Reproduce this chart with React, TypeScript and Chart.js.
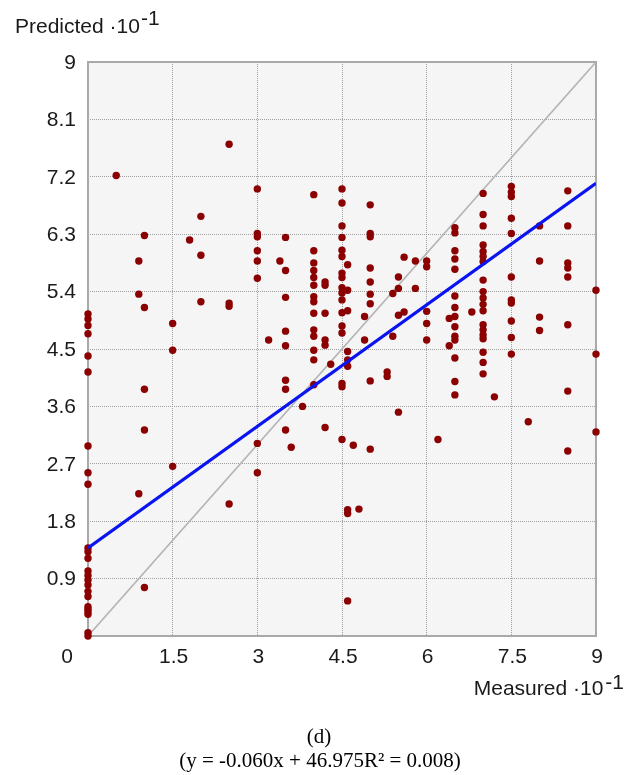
import React, { useEffect, useRef } from "react";
import { Chart, registerables } from "chart.js";

Chart.register(...registerables);

// Measured levels (x, ·10^-1) and the predicted values observed at each level (y, ·10^-1)
const measuredLevels = [
  0, 0.5, 0.9, 1.0, 1.5, 1.8, 2.0, 2.5, 3.0, 3.2, 3.4, 3.5, 3.6, 3.8, 4.0, 4.2, 4.3, 4.5, 4.6, 4.7,
  4.8, 4.9, 5.0, 5.3, 5.4, 5.5, 5.6, 5.8, 6.0, 6.2, 6.4, 6.5, 6.8, 7.0, 7.2, 7.5, 7.8, 8.0, 8.5, 9.0,
];
const predictedGroups = [
  [5.05, 4.97, 4.87, 4.74, 4.39, 4.14, 2.98, 2.56, 2.38, 1.38, 1.32, 1.22, 1.02, 0.95, 0.88, 0.8, 0.7, 0.62, 0.46, 0.42, 0.38, 0.34, 0.05, 0.0],
  [7.22],
  [5.88, 5.36, 2.23],
  [6.28, 5.15, 3.87, 3.23, 0.76],
  [4.9, 4.48, 2.66],
  [6.21],
  [6.58, 5.97, 5.24],
  [7.71, 5.22, 5.17, 2.07],
  [7.01, 6.31, 6.26, 6.04, 5.88, 5.61, 3.02, 2.56],
  [4.64],
  [5.88],
  [6.25, 5.73, 5.31, 4.78, 4.55, 4.01, 3.87, 3.23],
  [2.96],
  [3.6],
  [6.92, 6.04, 5.85, 5.73, 5.62, 5.5, 5.32, 5.24, 5.06, 4.8, 4.7, 4.48, 4.33, 3.94],
  [5.55, 5.5, 5.06, 4.64, 4.56, 3.27],
  [4.26],
  [7.01, 6.79, 6.43, 6.25, 6.05, 5.95, 5.69, 5.62, 5.46, 5.38, 5.27, 5.07, 4.86, 4.75, 3.96, 3.91, 3.08],
  [5.82, 5.42, 5.1, 4.46, 4.33, 4.23, 1.98, 1.92, 0.55],
  [2.99],
  [1.99],
  [5.01, 4.64],
  [6.76, 6.31, 6.26, 5.77, 5.55, 5.36, 5.21, 4.0, 2.93],
  [4.14, 4.07],
  [5.37, 4.7],
  [5.63, 5.45, 5.03, 3.51],
  [5.94, 5.08],
  [5.88, 5.45],
  [5.88, 5.79, 5.09, 4.9, 4.64],
  [3.08],
  [4.98, 4.55],
  [6.4, 6.32, 6.04, 5.91, 5.75, 5.33, 5.15, 5.01, 4.85, 4.7, 4.64, 4.36, 3.99, 3.78],
  [5.08],
  [6.94, 6.61, 6.43, 6.13, 6.03, 5.95, 5.87, 5.58, 5.4, 5.3, 5.2, 5.1, 4.88, 4.8, 4.72, 4.66, 4.45, 4.29, 4.11],
  [3.75],
  [7.05, 6.96, 6.89, 6.55, 6.31, 5.63, 5.27, 5.22, 4.94, 4.68, 4.42],
  [3.36],
  [6.43, 5.88, 5.0, 4.79],
  [6.98, 6.43, 5.85, 5.77, 5.63, 4.88, 3.84, 2.9],
  [5.42, 4.42, 3.2],
];

// Fitted regression line endpoints and the identity (y = x) line
const fitX = [0, 9];
const fitY = [1.38, 7.1];
const identityX = [0, 9];
const identityY = [0, 9];

const xTicks = [0, 1.5, 3, 4.5, 6, 7.5, 9];
const yTicks = [0, 0.9, 1.8, 2.7, 3.6, 4.5, 5.4, 6.3, 7.2, 8.1, 9];

const yTitle = "Predicted ·10";
const xTitle = "Measured ·10";
const exponent = "-1";
const caption = "(d)";
const equation = "(y = -0.060x + 46.975R² = 0.008)";

const SANS = '"Liberation Sans", Arial, sans-serif';
const SERIF = '"Liberation Serif", "Times New Roman", serif';

const fmt = (v: number) => String(Math.round(v * 10) / 10);

const framePlugin = {
  id: "frame",
  beforeDraw(chart: any) {
    const { ctx, chartArea: a } = chart;
    ctx.save();
    ctx.fillStyle = "#ffffff";
    ctx.fillRect(0, 0, chart.width, chart.height);
    ctx.fillStyle = "#f5f5f5";
    ctx.fillRect(a.left, a.top, a.right - a.left, a.bottom - a.top);
    ctx.restore();
  },
  beforeDatasetsDraw(chart: any) {
    const { ctx, chartArea: a } = chart;
    ctx.save();
    ctx.strokeStyle = "#a9a9a9";
    ctx.lineWidth = 2;
    ctx.strokeRect(a.left, a.top, a.right - a.left, a.bottom - a.top);
    ctx.restore();
  },
  afterDraw(chart: any) {
    const ctx = chart.ctx;
    const xs = chart.scales.x;
    const ys = chart.scales.y;
    ctx.save();
    ctx.fillStyle = "#1a1a1a";
    ctx.font = `21px ${SANS}`;
    // y tick labels
    ctx.textAlign = "right";
    ctx.textBaseline = "middle";
    yTicks.forEach((v) => {
      if (v === 0) return;
      ctx.fillText(fmt(v), ys.right - 12, ys.getPixelForValue(v) + 1);
    });
    // x tick labels
    ctx.textAlign = "center";
    const xy = xs.top + 21;
    xTicks.forEach((v) => {
      if (v === 0) {
        ctx.fillText(fmt(v), xs.getPixelForValue(v) - 21, xy);
      } else {
        ctx.fillText(fmt(v), xs.getPixelForValue(v) + 1, xy);
      }
    });
    // axis titles
    ctx.textAlign = "left";
    ctx.textBaseline = "alphabetic";
    ctx.fillText(yTitle, 15, 33);
    const w1 = ctx.measureText(yTitle).width;
    ctx.fillText(exponent, 15 + w1 + 1, 25);
    const w2 = ctx.measureText(xTitle).width;
    const we = ctx.measureText(exponent).width;
    const xStart = 624 - we - 2 - w2;
    ctx.fillText(xTitle, xStart, 695);
    ctx.fillText(exponent, xStart + w2 + 2, 689);
    // caption
    ctx.fillStyle = "#000000";
    ctx.font = `21px ${SERIF}`;
    ctx.textAlign = "center";
    ctx.textBaseline = "middle";
    ctx.fillText(caption, 319, 737);
    ctx.fillText(equation, 320, 761);
    ctx.restore();
  },
};

export default function App() {
  const ref = useRef<HTMLCanvasElement | null>(null);

  useEffect(() => {
    if (!ref.current) return;
    const points: { x: number; y: number }[] = [];
    measuredLevels.forEach((m, i) => {
      predictedGroups[i].forEach((p) => points.push({ x: m, y: p }));
    });

    const chart = new Chart(ref.current, {
      type: "scatter",
      data: {
        datasets: [
          {
            label: "Fit",
            data: fitX.map((x, i) => ({ x, y: fitY[i] })),
            showLine: true,
            borderColor: "#0a14f0",
            borderWidth: 3.2,
            pointRadius: 0,
            order: 0,
          },
          {
            label: "Data",
            data: points,
            backgroundColor: "#8b0000",
            borderWidth: 0,
            pointRadius: 3.7,
            clip: false,
            order: 1,
          },
          {
            label: "Identity",
            data: identityX.map((x, i) => ({ x, y: identityY[i] })),
            showLine: true,
            borderColor: "#b4b4b4",
            borderWidth: 1.6,
            pointRadius: 0,
            order: 2,
          },
        ] as any,
      },
      plugins: [framePlugin],
      options: {
        animation: false,
        responsive: false,
        devicePixelRatio: 1,
        layout: { padding: { left: 0, top: 62, right: 46, bottom: 0 } },
        plugins: {
          legend: { display: false },
          tooltip: { enabled: false },
        },
        scales: {
          x: {
            type: "linear",
            min: 0,
            max: 9,
            afterBuildTicks: (s: any) => {
              s.ticks = xTicks.map((value) => ({ value }));
            },
            afterFit: (s: any) => {
              s.height = 139;
            },
            ticks: { display: false },
            grid: { color: "#a0a0a0", lineWidth: 1, drawTicks: false },
            border: { display: false, dash: [1, 1] },
          },
          y: {
            type: "linear",
            min: 0,
            max: 9,
            afterBuildTicks: (s: any) => {
              s.ticks = yTicks.map((value) => ({ value }));
            },
            afterFit: (s: any) => {
              s.width = 88;
            },
            ticks: { display: false },
            grid: { color: "#a0a0a0", lineWidth: 1, drawTicks: false },
            border: { display: false, dash: [1, 1] },
          },
        },
      } as any,
    });
    return () => chart.destroy();
  }, []);

  return (
    <div style={{ position: "absolute", left: 0, top: 0, width: 642, height: 775 }}>
      <canvas ref={ref} width={642} height={775} style={{ display: "block" }} />
    </div>
  );
}
